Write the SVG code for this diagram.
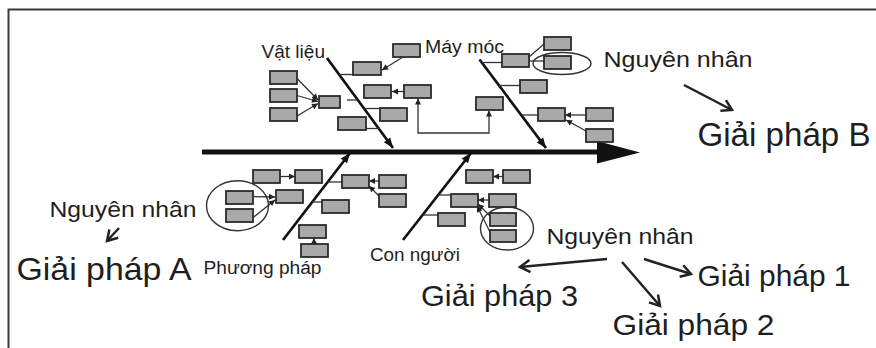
<svg xmlns="http://www.w3.org/2000/svg" width="876" height="348" viewBox="0 0 876 348">
<style>
.box{fill:#a9a9a9;stroke:#2b2b2b;stroke-width:1.8}
.ell{fill:none;stroke:#333;stroke-width:1.4}
.bone{stroke:#111;stroke-width:2.7;fill:none}
.ln{stroke:#333;stroke-width:1.3;fill:none}
.ta{stroke:#222;stroke-width:2.5;fill:none}
.t{font-family:"Liberation Sans",Arial,sans-serif;fill:#1e1e1e}
</style>
<defs>
<marker id="sa" markerUnits="userSpaceOnUse" markerWidth="8" markerHeight="8" refX="6" refY="3" orient="auto-start-reverse" overflow="visible"><path d="M0,0 L6,3 L0,6 Z" fill="#222"/></marker>
<marker id="ba" markerUnits="userSpaceOnUse" markerWidth="12" markerHeight="12" refX="10" refY="4" orient="auto" overflow="visible"><path d="M0,0 L10,4 L0,8 Z" fill="#111"/></marker>
<marker id="oa" markerUnits="userSpaceOnUse" markerWidth="16" markerHeight="16" refX="10" refY="6" orient="auto" overflow="visible"><path d="M0,0 L10,6 L0,12" fill="none" stroke="#222" stroke-width="2.5" stroke-linejoin="miter"/></marker>
</defs>
<g id="frame"><path d="M8.5,348 V9.5 H876" fill="none" stroke="#3a3a3a" stroke-width="2"/></g>
<g id="spine"><line x1="202" y1="152" x2="600" y2="152" stroke="#111" stroke-width="4.8"/><polygon points="597,141 640,152.5 597,163.5" fill="#111"/></g>
<g id="connectors">
<line class="bone" x1="327" y1="58" x2="393" y2="148" marker-end="url(#ba)"/>
<line class="bone" x1="479.5" y1="59.5" x2="546" y2="148" marker-end="url(#ba)"/>
<line class="bone" x1="283" y1="240" x2="350" y2="153" marker-end="url(#ba)"/>
<line class="bone" x1="403" y1="240" x2="471" y2="153" marker-end="url(#ba)"/>
<line class="ln" x1="339" y1="74.5" x2="353" y2="74.5"/>
<line class="ln" x1="403" y1="57" x2="382" y2="70" marker-end="url(#sa)"/>
<line class="ln" x1="404" y1="91.5" x2="392" y2="91.5" marker-end="url(#sa)"/>
<line class="ln" x1="364" y1="108.5" x2="380" y2="108.5"/>
<line class="ln" x1="366" y1="128.5" x2="380" y2="128.5"/>
<line class="ln" x1="347" y1="100" x2="358" y2="100"/>
<line class="ln" x1="297" y1="78.5" x2="318" y2="100" marker-end="url(#sa)"/>
<line class="ln" x1="297" y1="95.5" x2="318" y2="101.5" marker-end="url(#sa)"/>
<line class="ln" x1="297" y1="116" x2="318" y2="103.5" marker-end="url(#sa)"/>
<line class="ln" x1="482" y1="62.5" x2="502" y2="62.5"/>
<line class="ln" x1="529" y1="57" x2="544" y2="44"/>
<line class="ln" x1="529" y1="61" x2="544" y2="61"/>
<line class="ln" x1="499" y1="85.5" x2="520" y2="85.5"/>
<path class="ln" d="M418,98.5 V133 H489 V110.5" marker-start="url(#sa)" marker-end="url(#sa)"/>
<line class="ln" x1="521.5" y1="115" x2="538" y2="115"/>
<line class="ln" x1="586" y1="115" x2="565" y2="115" marker-end="url(#sa)"/>
<line class="ln" x1="586" y1="131" x2="566" y2="120" marker-end="url(#sa)"/>
<line class="ln" x1="280" y1="176.5" x2="295" y2="176.5" marker-end="url(#sa)"/>
<line class="ln" x1="252.5" y1="196.5" x2="275" y2="197" marker-end="url(#sa)"/>
<line class="ln" x1="252.5" y1="218" x2="275" y2="200" marker-end="url(#sa)"/>
<line class="ln" x1="312" y1="202" x2="322" y2="202"/>
<line class="ln" x1="314" y1="244" x2="314" y2="238" marker-end="url(#sa)"/>
<line class="ln" x1="327.5" y1="182" x2="342" y2="182"/>
<line class="ln" x1="379" y1="181" x2="369" y2="181" marker-end="url(#sa)"/>
<line class="ln" x1="379" y1="196" x2="369" y2="186" marker-end="url(#sa)"/>
<line class="ln" x1="503" y1="176.5" x2="493" y2="176.5" marker-end="url(#sa)"/>
<line class="ln" x1="438" y1="195" x2="451" y2="195"/>
<line class="ln" x1="489" y1="200" x2="478" y2="200" marker-end="url(#sa)"/>
<line class="ln" x1="422.5" y1="215" x2="438" y2="215"/>
<line class="ln" x1="490" y1="216" x2="478" y2="204" marker-end="url(#sa)"/>
<line class="ln" x1="490" y1="232" x2="477" y2="206" marker-end="url(#sa)"/>
<line class="ta" x1="119" y1="228" x2="107" y2="241" marker-end="url(#oa)"/>
<line class="ta" x1="684" y1="85" x2="732" y2="110" marker-end="url(#oa)"/>
<line class="ta" x1="607" y1="259" x2="520" y2="267" marker-end="url(#oa)"/>
<line class="ta" x1="622" y1="262" x2="660" y2="306" marker-end="url(#oa)"/>
<line class="ta" x1="644" y1="259" x2="691" y2="274" marker-end="url(#oa)"/>
</g>
<g id="e1"><ellipse class="ell" cx="562" cy="63.5" rx="29" ry="11"/></g>
<g id="e2"><ellipse class="ell" cx="237.5" cy="205.7" rx="31" ry="25"/></g>
<g id="e3"><ellipse class="ell" cx="507" cy="228.5" rx="26.5" ry="21.5"/></g>
<g id="b1"><rect class="box" x="393" y="44" width="27" height="13"/></g>
<g id="b2"><rect class="box" x="353" y="62" width="28" height="13"/></g>
<g id="b3"><rect class="box" x="364" y="85" width="27" height="13"/></g>
<g id="b4"><rect class="box" x="404" y="85" width="27" height="13"/></g>
<g id="b5"><rect class="box" x="380" y="108" width="27" height="13"/></g>
<g id="b6"><rect class="box" x="338" y="117" width="28" height="13"/></g>
<g id="b7"><rect class="box" x="319" y="96" width="21" height="12"/></g>
<g id="b8"><rect class="box" x="270" y="71" width="27" height="13"/></g>
<g id="b9"><rect class="box" x="270" y="89" width="27" height="13"/></g>
<g id="b10"><rect class="box" x="270" y="108" width="27" height="13"/></g>
<g id="b11"><rect class="box" x="502" y="54" width="27" height="13"/></g>
<g id="b12"><rect class="box" x="544" y="37" width="27" height="13"/></g>
<g id="b13"><rect class="box" x="544" y="56" width="27" height="13"/></g>
<g id="b14"><rect class="box" x="520" y="80" width="27" height="13"/></g>
<g id="b15"><rect class="box" x="476" y="97" width="27" height="13"/></g>
<g id="b16"><rect class="box" x="538" y="108" width="27" height="13"/></g>
<g id="b17"><rect class="box" x="586" y="108" width="27" height="13"/></g>
<g id="b18"><rect class="box" x="586" y="129" width="27" height="13"/></g>
<g id="b19"><rect class="box" x="253" y="170" width="27" height="13"/></g>
<g id="b20"><rect class="box" x="295" y="170" width="27" height="13"/></g>
<g id="b21"><rect class="box" x="226" y="191" width="27" height="13"/></g>
<g id="b22"><rect class="box" x="226" y="209" width="27" height="13"/></g>
<g id="b23"><rect class="box" x="276" y="190" width="27" height="13"/></g>
<g id="b24"><rect class="box" x="322" y="200" width="27" height="13"/></g>
<g id="b25"><rect class="box" x="299" y="225" width="27" height="13"/></g>
<g id="b26"><rect class="box" x="301" y="244" width="27" height="13"/></g>
<g id="b27"><rect class="box" x="342" y="175" width="27" height="13"/></g>
<g id="b28"><rect class="box" x="379" y="175" width="27" height="13"/></g>
<g id="b29"><rect class="box" x="379" y="194" width="27" height="13"/></g>
<g id="b30"><rect class="box" x="466" y="170" width="27" height="13"/></g>
<g id="b31"><rect class="box" x="503" y="170" width="27" height="13"/></g>
<g id="b32"><rect class="box" x="451" y="194" width="27" height="13"/></g>
<g id="b33"><rect class="box" x="489" y="194" width="27" height="13"/></g>
<g id="b34"><rect class="box" x="438" y="213" width="27" height="13"/></g>
<g id="b35"><rect class="box" x="490" y="213" width="26" height="13"/></g>
<g id="b36"><rect class="box" x="490" y="230" width="26" height="12"/></g>
<g id="labels">
<text class="t" x="261.5" y="57.5" font-size="18" textLength="63.5" lengthAdjust="spacingAndGlyphs">Vật liệu</text>
<text class="t" x="425" y="53" font-size="18" textLength="79" lengthAdjust="spacingAndGlyphs">Máy móc</text>
<text class="t" x="603.5" y="66.5" font-size="22" textLength="149" lengthAdjust="spacingAndGlyphs">Nguyên nhân</text>
<text class="t" x="697.5" y="145.5" font-size="33" textLength="173" lengthAdjust="spacingAndGlyphs">Giải pháp B</text>
<text class="t" x="49.5" y="216.5" font-size="22" textLength="147" lengthAdjust="spacingAndGlyphs">Nguyên nhân</text>
<text class="t" x="16.5" y="279.5" font-size="32" textLength="175" lengthAdjust="spacingAndGlyphs">Giải pháp A</text>
<text class="t" x="203.5" y="273.5" font-size="18" textLength="118" lengthAdjust="spacingAndGlyphs">Phương pháp</text>
<text class="t" x="370" y="260.5" font-size="18" textLength="90" lengthAdjust="spacingAndGlyphs">Con người</text>
<text class="t" x="546.5" y="244" font-size="21.5" textLength="147" lengthAdjust="spacingAndGlyphs">Nguyên nhân</text>
<text class="t" x="697.5" y="285.5" font-size="29" textLength="153" lengthAdjust="spacingAndGlyphs">Giải pháp 1</text>
<text class="t" x="612.5" y="335" font-size="30" textLength="162" lengthAdjust="spacingAndGlyphs">Giải pháp 2</text>
<text class="t" x="421" y="306" font-size="30" textLength="157" lengthAdjust="spacingAndGlyphs">Giải pháp 3</text>
</g>
</svg>
